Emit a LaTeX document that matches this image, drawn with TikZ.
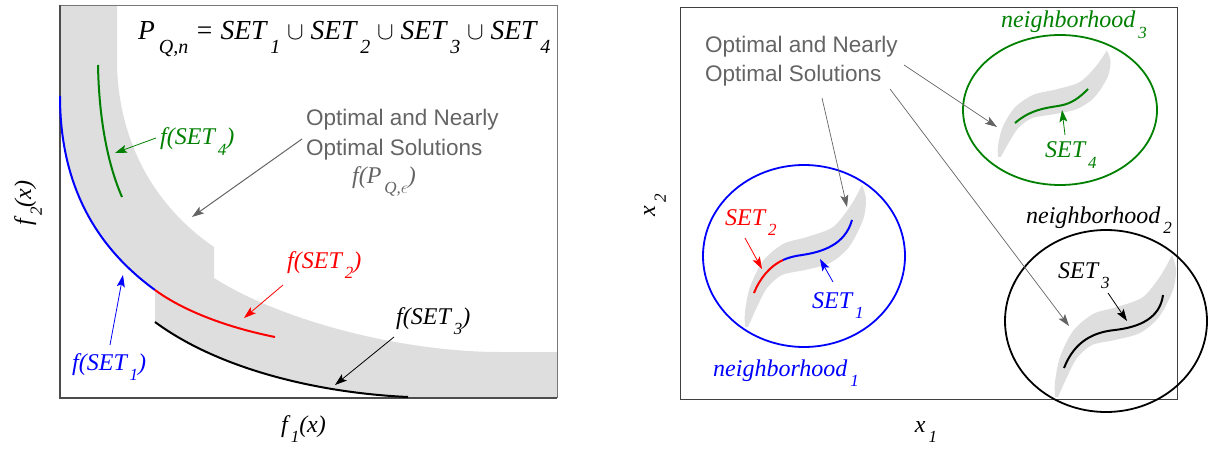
\documentclass[tikz,border=0pt]{standalone}
\usepackage{fontspec}
\setmainfont{Liberation Serif}
\setsansfont{Liberation Sans}
\usetikzlibrary{arrows.meta}
\definecolor{bandgray}{RGB}{222,222,222}
\definecolor{txtgray}{RGB}{100,100,100}
\definecolor{dgreen}{RGB}{0,128,0}
\definecolor{boxgray}{RGB}{120,120,120}
\newcommand\sbs[1]{\kern0.12em\raisebox{-0.45em}{\fontsize{17}{17}\selectfont #1}}
\newcommand\sbt[1]{\kern0.14em\raisebox{-0.5em}{\fontsize{20}{20}\selectfont #1}}
\newcommand\sbandshape{%
  \fill[bandgray] plot[smooth] coordinates {(0,0) (0,-15) (5,-40) (18,-66) (38,-83) (62,-90) (88,-100) (106,-122) (117,-142)}
    -- plot[smooth] coordinates {(117,-142) (121,-128) (118,-107) (104,-80) (85,-64) (60,-57) (37,-52) (22,-39) (12,-20) (3,0)} -- cycle;}
\begin{document}
\begin{tikzpicture}[x=1pt,y=-1pt,
  lbl/.style={font=\fontsize{24}{26}\selectfont\itshape, inner sep=0pt},
  ttl/.style={font=\fontsize{27.5}{30}\selectfont\itshape, inner sep=0pt},
  stxt/.style={font=\fontsize{22.5}{28}\selectfont\sffamily, text=txtgray, inner sep=0pt},
  arr/.style={-{Stealth[length=12pt,width=8pt,inset=2.5pt]}, line width=0.8pt},
  garr/.style={arr, draw=txtgray},
  crv/.style={line width=2pt},
  nbh/.style={line width=1.8pt}]
\useasboundingbox (0,0) rectangle (1209,449);

% ---------------- left panel ----------------
\fill[bandgray] (60,5) -- (117,5) -- (117,67)
  .. controls (120,150) and (160,210) .. (214,247)
  -- (214,278)
  .. controls (280,320) and (400,352) .. (500,352)
  -- (557,352) -- (557,398) -- (408,398)
  .. controls (320,393) and (220,370) .. (155,322)
  -- (155,290)
  .. controls (100,250) and (60,190) .. (60,96)
  -- cycle;
\draw[boxgray, line width=0.8pt] (60,5) -- (557,5) -- (557,398);
\draw[black!70, line width=1.4pt] (60,5) -- (60,398) -- (557,398);

\draw[crv, blue] (60,96) .. controls (60,190) and (100,250) .. (155,290);
\draw[crv, red] (155,290) .. controls (185,312) and (230,328) .. (275,337);
\draw[crv, black] (155,322) .. controls (220,370) and (320,393) .. (408,397);
\draw[crv, dgreen] (98,65) .. controls (99,120) and (108,165) .. (122,197);

\node[ttl, anchor=base west] (title) at (138,40) {P\sbt{Q,n} = SET\sbt{1} $\cup$ SET\sbt{2} $\cup$ SET\sbt{3} $\cup$ SET\sbt{4}};

\node[lbl, text=dgreen, anchor=base west] (fs4) at (160,145) {f(SET\sbs{4})};
\node[lbl, text=red, anchor=base west] (fs2) at (287,268) {f(SET\sbs{2})};
\node[lbl, anchor=base west] (fs3) at (396,324) {f(SET\sbs{3})};
\node[lbl, text=blue, anchor=base west] (fs1) at (72,370) {f(SET\sbs{1})};

\node[stxt, anchor=base west] (optL1) at (306,126) {Optimal and Nearly};
\node[stxt, anchor=base west] (optL2) at (306,156) {Optimal Solutions};
\node[lbl, text=txtgray, anchor=base west] (fpq) at (352,183) {f(P\sbs{Q,$\epsilon$})};

\node[lbl, anchor=base west] (f1x) at (281,432) {f\sbs{1}(x)};
\node[lbl, rotate=90] (f2x) at (28,203) {f\sbs{2}(x)};

\coordinate (a4s) at (156,138); \coordinate (a4e) at (115,153);
\coordinate (ags) at (302,139); \coordinate (age) at (192,217);
\coordinate (a2s) at (283,285); \coordinate (a2e) at (244,318);
\coordinate (a3s) at (394,337); \coordinate (a3e) at (335,385);
\coordinate (a1s) at (110,345); \coordinate (a1e) at (123,275);
\draw[arr, dgreen] (a4s) -- (a4e);
\draw[garr, line width=1pt] (ags) -- (age);
\draw[arr, red] (a2s) -- (a2e);
\draw[arr, black] (a3s) -- (a3e);
\draw[arr, blue] (a1s) -- (a1e);

% ---------------- right panel ----------------
\draw[black!75, line width=0.8pt] (680,7) rectangle (1177,399);

\begin{scope}[shift={(745,327)}]\sbandshape\end{scope}
\begin{scope}[shift={(1055,397)}]\sbandshape\end{scope}
\begin{scope}[shift={(998,157)}, xscale=0.93, yscale=0.75]\sbandshape\end{scope}

\draw[nbh, blue] (804,256) ellipse [x radius=101pt, y radius=91pt];
\draw[nbh, dgreen] (1060,110) ellipse [x radius=97pt, y radius=75pt];
\draw[nbh, black] (1106,321) ellipse [x radius=101pt, y radius=91pt];

\draw[crv, red] (754,293) .. controls (760,278) and (770,266) .. (783,260);
\draw[crv, blue] (783,260) .. controls (790,257) and (795,256) .. (802,255)
  .. controls (822,252) and (845,245) .. (852,220);
\draw[crv, black] (1064,368) .. controls (1075,340) and (1095,332) .. (1115,330)
  .. controls (1140,327) and (1160,318) .. (1163,295);
\draw[crv, dgreen] (1015,123) .. controls (1030,110) and (1045,108) .. (1058,106)
  .. controls (1072,104) and (1080,97) .. (1088,89);

\node[stxt, anchor=base west] (optR1) at (705,53) {Optimal and Nearly};
\node[stxt, anchor=base west] (optR2) at (705,82) {Optimal Solutions};

\node[lbl, text=dgreen, anchor=base west] (nb3) at (1001,28) {neighborhood\sbs{3}};
\node[lbl, anchor=base west] (nb2) at (1026,223) {neighborhood\sbs{2}};
\node[lbl, text=blue, anchor=base west] (nb1) at (713,376) {neighborhood\sbs{1}};

\node[lbl, text=dgreen, anchor=base west] (s4) at (1045,158) {SET\sbs{4}};
\node[lbl, anchor=base west] (s3) at (1058,278) {SET\sbs{3}};
\node[lbl, text=red, anchor=base west] (s2) at (725,225) {SET\sbs{2}};
\node[lbl, text=blue, anchor=base west] (s1) at (812,308) {SET\sbs{1}};

\node[lbl, rotate=90] (x2) at (655,205) {x\sbs{2}};
\node[lbl] (x1) at (926,432) {x\sbs{1}};

\coordinate (b2s) at (745,238); \coordinate (b2e) at (762,269);
\coordinate (b1s) at (833,282); \coordinate (b1e) at (820,259);
\coordinate (b3s) at (1108,293); \coordinate (b3e) at (1127,321);
\coordinate (b4s) at (1065,135); \coordinate (b4e) at (1062,110);
\coordinate (g1s) at (822,98); \coordinate (g1e) at (847,207);
\coordinate (g2s) at (904,65); \coordinate (g2e) at (997,127);
\coordinate (g3s) at (890,89); \coordinate (g3e) at (1069,326);
\draw[arr, red] (b2s) -- (b2e);
\draw[arr, blue] (b1s) -- (b1e);
\draw[arr, black] (b3s) -- (b3e);
\draw[arr, dgreen] (b4s) -- (b4e);
\draw[garr, line width=0.7pt] (g1s) -- (g1e);
\draw[garr, line width=0.7pt] (g2s) -- (g2e);
\draw[garr, line width=0.7pt] (g3s) -- (g3e);
\end{tikzpicture}
\end{document}
